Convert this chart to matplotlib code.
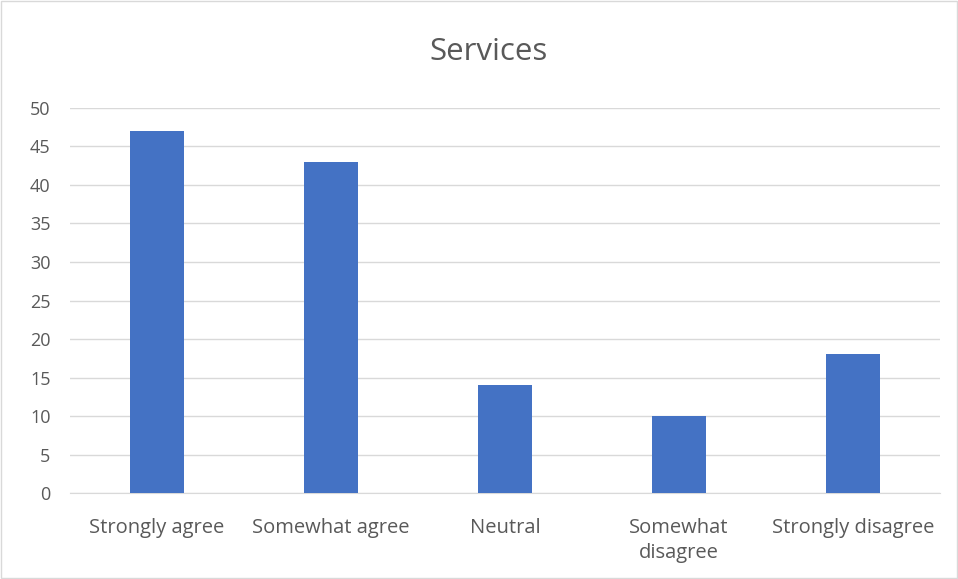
import matplotlib.pyplot as plt
import numpy as np

categories = ["Strongly agree", "Somewhat agree", "Neutral", "Somewhat\ndisagree", "Strongly disagree"]
values = [47, 43, 14, 10, 18]
yticks = [0, 5, 10, 15, 20, 25, 30, 35, 40, 45, 50]

text_col = "#595959"
plt.rcParams["font.family"] = ["Open Sans", "DejaVu Sans"]

fig = plt.figure(figsize=(9.58, 5.79), dpi=100)
ax = fig.add_axes([0.073, 0.1485, 0.908, 0.665])

x = np.arange(len(categories))
ax.bar(x, values, width=0.31, color="#4472C4", zorder=3)

ax.set_xlim(-0.5, len(categories) - 0.5)
ax.set_ylim(0, 50)
ax.set_yticks(yticks)
ax.set_xticks(x)
ax.set_xticklabels(categories, fontsize=14.5, color=text_col, linespacing=1.3)
ax.tick_params(axis="y", labelsize=13, colors=text_col, length=0, pad=14)
ax.tick_params(axis="x", length=0, pad=18)
ax.grid(axis="y", color="#D9D9D9", linewidth=1, zorder=0)
for s in ["top", "right", "left"]:
    ax.spines[s].set_visible(False)
ax.spines["bottom"].set_color("#D9D9D9")

fig.text(0.51, 0.91, "Services", ha="center", va="center", fontsize=22.5, color=text_col)

# light frame around chart area
fig.patches.append(plt.Rectangle((0.001, 0.001), 0.998, 0.998, transform=fig.transFigure,
                                 fill=False, edgecolor="#D9D9D9", linewidth=1))

fig.savefig("out.png", dpi=100)
